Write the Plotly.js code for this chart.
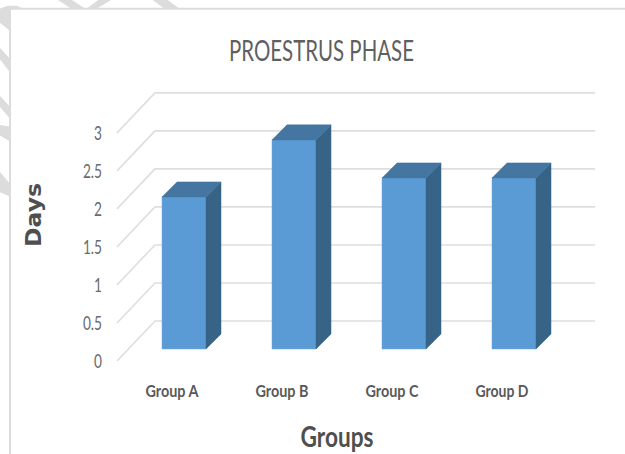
<!DOCTYPE html>
<html>
<head>
<meta charset="utf-8">
<script src="https://cdn.plot.ly/plotly-3.0.1.min.js"></script>
<style>html,body{margin:0;padding:0;background:#fff}</style>
</head>
<body>
<div id="chart" style="width:625px;height:454px"></div>
<script>
var categories = ["Group A", "Group B", "Group C", "Group D"];
var days = [2, 2.75, 2.25, 2.25];
var yTicks = [0, 0.5, 1, 1.5, 2, 2.5, 3];
var chartTitle = "PROESTRUS PHASE";
var xTitle = "Groups";
var yTitle = "Days";

var H = 454, W = 625, L = 117, R = 557, WALL_R = 595, Y0 = 361;
var pxY = 76, pxX = 110;
var wallDX = 38 / pxX, wallDY = 40 / pxY;
var barDX = 12 / pxX, barDY = 12 / pxY;
var depthDX = 15 / pxX, depthDY = 15 / pxY;
var barW = 44 / pxX;
var frontC = "#5b9bd5", topC = "#4575a1", sideC = "#376387", gridC = "#dedede";
var xRange = [-0.5, 3.5];
var yRange = [0, 3.84];

var traces = [];
categories.forEach(function (c, i) {
  var l = i + barDX - barW / 2, r = i + barDX + barW / 2;
  var b = barDY, t = barDY + days[i];
  traces.push({
    type: "scatter", mode: "lines", fill: "toself", fillcolor: sideC, hoverinfo: "skip", showlegend: false,
    x: [r, r + depthDX, r + depthDX, r, r],
    y: [b, b + depthDY, t + depthDY, t, b],
    line: { color: sideC, width: 0.5 }
  });
  traces.push({
    type: "scatter", mode: "lines", fill: "toself", fillcolor: topC, hoverinfo: "skip", showlegend: false,
    x: [l, l + depthDX, r + depthDX, r, l],
    y: [t, t + depthDY, t + depthDY, t, t],
    line: { color: topC, width: 0.5 }
  });
});
traces.push({
  type: "bar", showlegend: false,
  x: categories.map(function (c, i) { return i + barDX; }),
  y: days,
  base: categories.map(function () { return barDY; }),
  width: barW,
  text: categories, textposition: "none", hoverinfo: "text+y",
  marker: { color: frontC, line: { color: "#6aa5da", width: 0.5 } }
});

function fx(px) { return (px - L) / (R - L); }
function fy(py) { return (Y0 - py) / (yRange[1] * pxY); }
function poly(pts) {
  return { type: "path", xref: "paper", yref: "paper", layer: "below",
    path: "M" + pts.map(function (p) { return fx(p[0]) + "," + fy(p[1]); }).join("L") + "Z",
    fillcolor: "#dcdcdc", line: { width: 0 } };
}
var stripes = [
  poly([[56, -1], [70, -1], [87, 10], [73, 10]]),
  poly([[100, -1], [113, -1], [95, 10], [85, 10]]),
  poly([[151, -1], [166, -1], [181, 10], [166, 10]]),
  poly([[-1, 9], [8, 6], [17, 6], [25, 10], [11, 10], [11, 32], [-1, 22]]),
  poly([[-1, 47], [11, 60], [11, 74], [-1, 58]]),
  poly([[-1, 95], [11, 108], [11, 120], [-1, 106]]),
  poly([[-1, 125], [11, 127], [11, 142], [-1, 135]]),
  poly([[-1, 171], [11, 185], [11, 197], [-1, 192]])
];
var frame = {
  type: "rect", xref: "paper", yref: "paper", layer: "below",
  x0: fx(10), x1: fx(W + 20), y0: fy(H + 20), y1: fy(9),
  fillcolor: "#ffffff", line: { color: "#dcdcdc", width: 2 }
};
var grid = yTicks.map(function (v) {
  return { type: "path", xref: "paper", yref: "y", layer: "below",
    path: "M0," + v + "L" + fx(L + 38) + "," + (v + wallDY) + "L" + fx(WALL_R) + "," + (v + wallDY),
    line: { color: gridC, width: 1.6 } };
});

var narrow = "Lato, Liberation Sans";
var layout = {
  width: W, height: H,
  margin: { l: L, r: W - R, t: Y0 - yRange[1] * pxY, b: H - Y0, pad: 0 },
  paper_bgcolor: "#ffffff", plot_bgcolor: "rgba(0,0,0,0)",
  showlegend: false,
  title: { text: chartTitle, font: { family: narrow, size: 29, color: "#5f5f5f" },
    x: 321.5 / W, xanchor: "center", y: 1 - 51 / H, yanchor: "middle" },
  xaxis: {
    range: xRange, tickmode: "array", tickvals: [0, 1, 2, 3], ticktext: categories,
    showgrid: false, zeroline: false, showline: false, ticks: "",
    ticklabelstandoff: 18,
    tickfont: { family: narrow, size: 17, weight: 700, color: "#595959" },
    title: { text: "<b>" + xTitle + "</b>", standoff: 27, font: { family: narrow, size: 28, color: "#4f4f4f" } }
  },
  yaxis: {
    range: yRange, tickmode: "array", tickvals: yTicks, ticktext: yTicks.map(String),
    showgrid: false, zeroline: false, showline: false, ticks: "",
    ticklabelstandoff: 14,
    tickfont: { family: narrow, size: 19, color: "#6a6a6a" },
    title: { text: "<b>" + yTitle + "</b>", standoff: 28, font: { family: "DejaVu Sans", size: 21, color: "#4f4f4f" } }
  },
  shapes: stripes.concat([frame]).concat(grid)
};
function squeeze(sel, factor, width) {
  document.querySelectorAll(sel).forEach(function (t) {
    var w = width || t.getComputedTextLength() * factor;
    t.setAttribute("textLength", w);
    t.setAttribute("lengthAdjust", "spacingAndGlyphs");
  });
}
Plotly.newPlot("chart", traces, layout, { displayModeBar: false }).then(function () {
  squeeze(".gtitle", 0, 185);
  squeeze(".xtick text", 0, 53);
  squeeze(".ytick text", 0.72);
  squeeze(".g-xtitle text", 0, 73);
  squeeze(".g-ytitle text", 0, 64);
});
</script>
</body>
</html>
